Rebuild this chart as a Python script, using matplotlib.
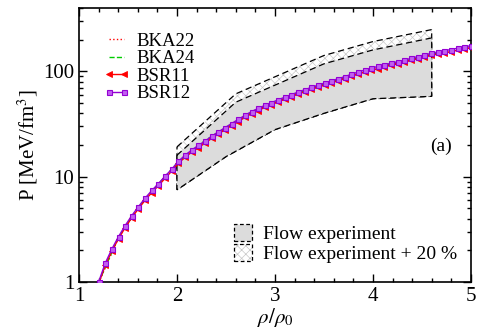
import numpy as np
import matplotlib
matplotlib.use("Agg")
import matplotlib.pyplot as plt
from matplotlib.patches import Polygon, Patch
from matplotlib.legend_handler import HandlerTuple
from matplotlib.ticker import MultipleLocator, LogLocator, NullFormatter, FixedLocator

plt.rcParams['font.family'] = ['Liberation Serif', 'DejaVu Serif']
plt.rcParams['mathtext.fontset'] = 'stix'
plt.rcParams['hatch.linewidth'] = 0.5

# ---- data ----
rho_fine = np.linspace(1.2, 5.0, 57)
P_BSR12 = [1.00, 1.51, 2.06, 2.70, 3.44, 4.28, 5.20, 6.26, 7.40, 8.60, 10.1, 11.8, 14.0, 16.0,
           17.9, 19.8, 21.8, 24.2, 26.6, 29.2, 32.0, 35.0, 38.2, 41.6, 44.5, 47.6, 50.5, 53.7,
           56.9, 60.1, 63.7, 67.0, 70.5, 74.0, 77.6, 81.3, 85.1, 89.1, 93.8, 98.4, 102.8,
           107.2, 111.4, 115.6, 119.7, 123.6, 127.6, 133.4, 138.0, 143.5, 148.3, 152.8,
           157.0, 161.4, 166.0, 170.6, 175.4]
P_BSR11 = [0.96, 1.44, 1.97, 2.58, 3.29, 4.09, 4.97, 5.98, 7.07, 8.22, 9.65, 11.3, 13.4, 15.3,
           17.1, 18.9, 20.8, 23.1, 25.4, 27.9, 30.6, 33.4, 36.5, 39.7, 42.5, 45.5, 48.3, 51.3,
           54.4, 57.5, 60.9, 64.1, 67.4, 70.8, 74.2, 77.8, 81.4, 85.2, 89.7, 94.1, 98.3,
           102.5, 106.5, 110.5, 114.4, 118.2, 122.0, 127.5, 131.9, 137.2, 141.8, 146.1,
           150.1, 154.3, 158.7, 163.1, 167.7]
rho_coarse = [1.2, 1.4, 1.6, 1.8, 2.0, 2.2, 2.4, 2.6, 2.8, 3.0, 3.2, 3.4, 3.6, 3.8, 4.0,
              4.2, 4.4, 4.6, 4.8, 5.0]
P_BKA22 = [0.98, 2.60, 5.00, 8.20, 13.2, 19.2, 25.5, 32.6, 42.3, 50.1, 60.0, 70.0, 80.7,
           92.8, 106.0, 117.6, 128.3, 144.0, 155.5, 170.0]
P_BKA24 = [0.99, 2.62, 5.05, 8.30, 13.4, 19.4, 25.8, 33.0, 42.9, 50.8, 60.8, 71.0, 81.8,
           94.1, 107.5, 119.3, 130.0, 146.0, 158.0, 172.5]

flow_upper_rho = [2.0, 2.6, 3.5, 4.0, 4.6]
flow_upper_P = [16.0, 51.0, 118.0, 160.0, 208.0]
flow_lower_rho = [2.0, 2.5, 3.0, 3.5, 4.0, 4.6]
flow_lower_P = [7.5, 15.5, 28.0, 40.0, 55.0, 58.0]
extra_factor = 1.2

fig = plt.figure(figsize=(4.8, 3.34), dpi=100)
ax = fig.add_axes([0.1646, 0.1557, 0.8164, 0.8203])
ax.set_yscale('log')
ax.set_xlim(1, 5)
ax.set_ylim(1, 400)

hatch_col = '#c8c8c8'
dash = (0, (5, 3))
# +20% band (hatched)
up20 = [p * extra_factor for p in flow_upper_P]
verts20 = list(zip(flow_upper_rho, up20)) + list(zip(flow_lower_rho[::-1], flow_lower_P[::-1]))
ax.add_patch(Polygon(verts20, closed=True, facecolor='white', edgecolor=hatch_col,
                     hatch='xxxx', linewidth=0, zorder=1))
ax.add_patch(Polygon(verts20, closed=True, facecolor='none', edgecolor='black',
                     linestyle=dash, linewidth=0.9, zorder=2))
verts = list(zip(flow_upper_rho, flow_upper_P)) + list(zip(flow_lower_rho[::-1], flow_lower_P[::-1]))
ax.add_patch(Polygon(verts, closed=True, facecolor='#dcdcdc', edgecolor='black',
                     linestyle=dash, linewidth=0.9, zorder=2))

violet = '#9400d3'
l1, = ax.plot(rho_coarse, P_BKA22, color='red', linestyle=':', linewidth=1, zorder=3)
l2, = ax.plot(rho_coarse, P_BKA24, color='#00cc00', linestyle='--', linewidth=1, zorder=3)
l3, = ax.plot(rho_fine, P_BSR11, color='red', linewidth=1, marker='<', markersize=4,
              markeredgewidth=0.6, zorder=4)
l4, = ax.plot(rho_fine, P_BSR12, color=violet, linewidth=1, marker='s', markersize=3.6,
              markerfacecolor='#c060f0', markeredgecolor=violet, markeredgewidth=0.8, zorder=5)

ax.text(4.7, 19.5, '(a)', fontsize=14, ha='center', va='center')

leg1 = ax.legend([l1, l2, l3, l4], ['BKA22', 'BKA24', 'BSR11', 'BSR12'],
                 loc='upper left', bbox_to_anchor=(0.061, 0.91), frameon=False,
                 fontsize=13.5, handlelength=1.4, handletextpad=0.4, labelspacing=0.02,
                 numpoints=2, borderaxespad=0, borderpad=0)
ax.add_artist(leg1)

h1 = Patch(facecolor='#dcdcdc', edgecolor='black', linestyle=(0, (3, 2)), linewidth=0.9)
h2a = Patch(facecolor='white', edgecolor=hatch_col, linewidth=0, hatch='xxxx')
h2b = Patch(facecolor='none', edgecolor='black', linestyle=(0, (3, 2)), linewidth=0.9)
ax.legend([h1, (h2a, h2b)], ['Flow experiment', 'Flow experiment + 20 %'], loc='lower right',
          bbox_to_anchor=(0.966, 0.068), frameon=False, fontsize=14, handlelength=0.9,
          handleheight=1.0, handletextpad=0.6, labelspacing=0.05, borderaxespad=0,
          borderpad=0, handler_map={tuple: HandlerTuple(ndivide=1, pad=0)})

ax.xaxis.set_major_locator(MultipleLocator(1))
ax.xaxis.set_minor_locator(MultipleLocator(0.2))
ax.yaxis.set_major_locator(FixedLocator([1, 10, 100]))
ax.yaxis.set_minor_locator(LogLocator(base=10, subs=np.arange(2, 10)))
ax.yaxis.set_minor_formatter(NullFormatter())
ax.set_yticklabels(['1', '10', '100'])
ax.tick_params(which='both', direction='in', top=True, right=True, labelsize=15, width=1)
ax.tick_params(which='major', length=6)
ax.tick_params(which='minor', length=3)
for s in ax.spines.values():
    s.set_linewidth(1.2)

ax.set_xlabel(r'$\rho/\rho_0$', fontsize=15, labelpad=0)
ax.set_ylabel(r'P [MeV/fm$^3$]', fontsize=15, labelpad=2)

fig.savefig('out.png', dpi=100)
